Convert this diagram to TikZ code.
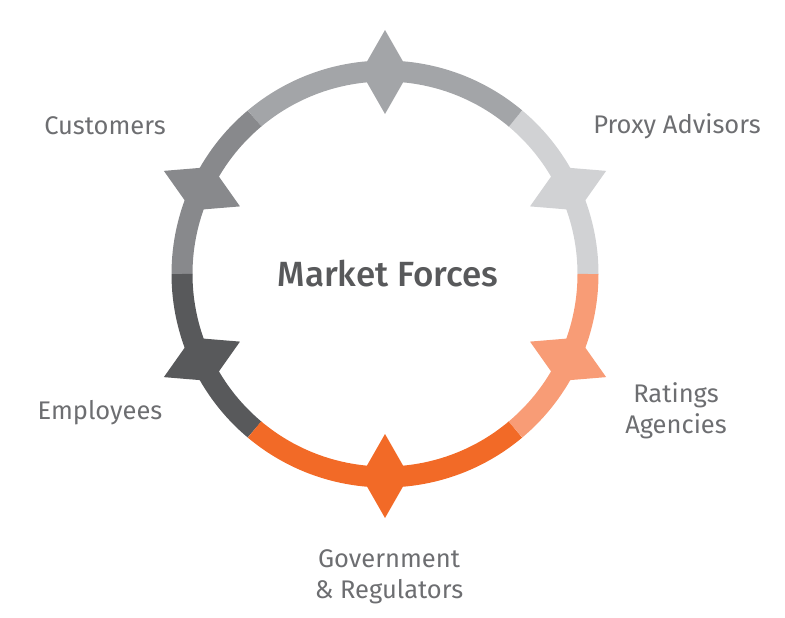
\documentclass[tikz,border=0pt]{standalone}
\usepackage{fontspec}
\setmainfont{Fira Sans}
\newfontfamily\titlefont{Fira Sans}[UprightFont=* Medium]
\usetikzlibrary{positioning}

\definecolor{ringTop}{HTML}{A3A5A8}
\definecolor{ringLight}{HTML}{D1D2D4}
\definecolor{ringSalmon}{HTML}{F89C76}
\definecolor{ringOrange}{HTML}{F26A27}
\definecolor{ringDark}{HTML}{58595B}
\definecolor{ringMid}{HTML}{88898C}
\definecolor{labelGray}{HTML}{6D6E71}

\begin{document}
\begin{tikzpicture}[
    x=1pt, y=1pt,
    segment/.style={
        line width=21pt
    },
    force/.style={
        font=\fontsize{25.5}{31.5}\selectfont,
        text=labelGray,
        align=center,
        inner sep=0pt
    },
    title/.style={
        font=\titlefont\fontsize{35}{40}\selectfont,
        text=ringDark,
        inner sep=0pt
    }
]
\useasboundingbox (0,0) rectangle (785,-618);

\begin{scope}[shift={(385,-274)}]
    % ring segments
    \foreach \s/\e/\c in {0/50/ringLight, 50/130/ringTop, 130/180/ringMid,
                          180/230/ringDark, 230/310/ringOrange, 310/360/ringSalmon} {
        \draw[segment, \c] (\s:203) arc[start angle=\s, end angle=\e, radius=203];
    }
    % stars on the ring
    \foreach \a/\c in {90/ringTop, 25/ringLight, -25/ringSalmon,
                       -90/ringOrange, 205/ringDark, 155/ringMid} {
        \fill[\c, shift={(\a:202)}, rotate=\a]
            (42,0) -- (0,24) -- (-42,0) -- (0,-24) -- cycle;
    }
\end{scope}

\node[title] (center) at (388,-274) {Market Forces};

\node[force] (customers) at (105,-126) {Customers};
\node[force] (proxy) at (677,-126) {Proxy Advisors};
\node[force] (ratings) at (676,-411) {Ratings\\Agencies};
\node[force] (government) at (389,-577) {Government\\\& Regulators};
\node[force] (employees) at (100,-413) {Employees};

\end{tikzpicture}
\end{document}
